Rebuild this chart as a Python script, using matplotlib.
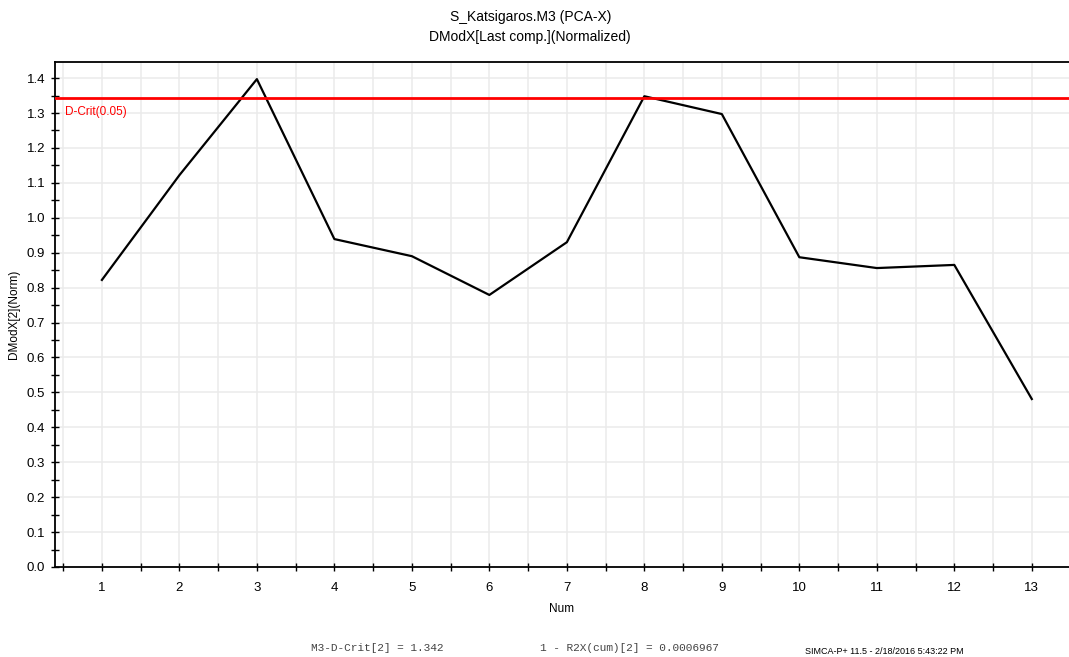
import numpy as np
import matplotlib.pyplot as plt
from matplotlib.ticker import MultipleLocator

plt.rcParams['font.family'] = ['Liberation Sans', 'DejaVu Sans']

# values
num = [1, 2, 3, 4, 5, 6, 7, 8, 9, 10, 11, 12, 13]
dmodx = [0.822, 1.122, 1.397, 0.939, 0.890, 0.779, 0.930, 1.348, 1.297, 0.887, 0.856, 0.865, 0.481]
d_crit = 1.342
r2x_rest = "0.0006967"

fig = plt.figure(figsize=(10.69, 6.57), dpi=100)
ax = fig.add_axes([0.0514, 0.137, 0.9486, 0.7686])

ax.plot(num, dmodx, color='black', lw=1.6, zorder=3)
ax.axhline(d_crit, color='#ff0000', lw=2.0, zorder=4)
ax.text(0.52, d_crit - 0.022, 'D-Crit(0.05)', color='#ff0000', fontsize=8.5, va='top', ha='left')

ax.set_xlim(0.394, 13.48)
ax.set_ylim(0, 1.446)
ax.xaxis.set_major_locator(MultipleLocator(1))
ax.xaxis.set_minor_locator(MultipleLocator(0.5))
ax.yaxis.set_major_locator(MultipleLocator(0.1))
ax.yaxis.set_minor_locator(MultipleLocator(0.05))
ax.yaxis.set_major_formatter(plt.FuncFormatter(lambda v, p: f"{v:.1f}"))

ax.grid(True, which='major', axis='y', color='#ebebeb', lw=1.1)
ax.grid(True, which='both', axis='x', color='#ebebeb', lw=1.1)
ax.set_axisbelow(True)

ax.spines['right'].set_visible(False)
for s in ['left', 'bottom', 'top']:
    ax.spines[s].set_linewidth(1.3)
ax.tick_params(axis='both', which='both', direction='inout', labelsize=9.5, width=1, length=6)
ax.tick_params(axis='x', pad=8)
ax.tick_params(axis='y', pad=4)

ax.set_xlabel('Num', fontsize=8.5, labelpad=6)
ax.set_ylabel('DModX[2](Norm)', fontsize=8.5, labelpad=5)

fig.text(0.496, 0.985, 'S_Katsigaros.M3 (PCA-X)\nDModX[Last comp.](Normalized)',
         ha='center', va='top', fontsize=10, linespacing=1.55)

fig.text(0.291, 0.006, f'M3-D-Crit[2] = {d_crit:.3f}', family='Liberation Mono',
         fontsize=8, color='#444444', ha='left', va='bottom')
fig.text(0.505, 0.006, f'1 - R2X(cum)[2] = {r2x_rest}', family='Liberation Mono',
         fontsize=8, color='#444444', ha='left', va='bottom')
fig.text(0.753, 0.001, 'SIMCA-P+ 11.5 - 2/18/2016 5:43:22 PM',
         fontsize=6.5, color='black', ha='left', va='bottom')

fig.savefig('out.png', dpi=100)
